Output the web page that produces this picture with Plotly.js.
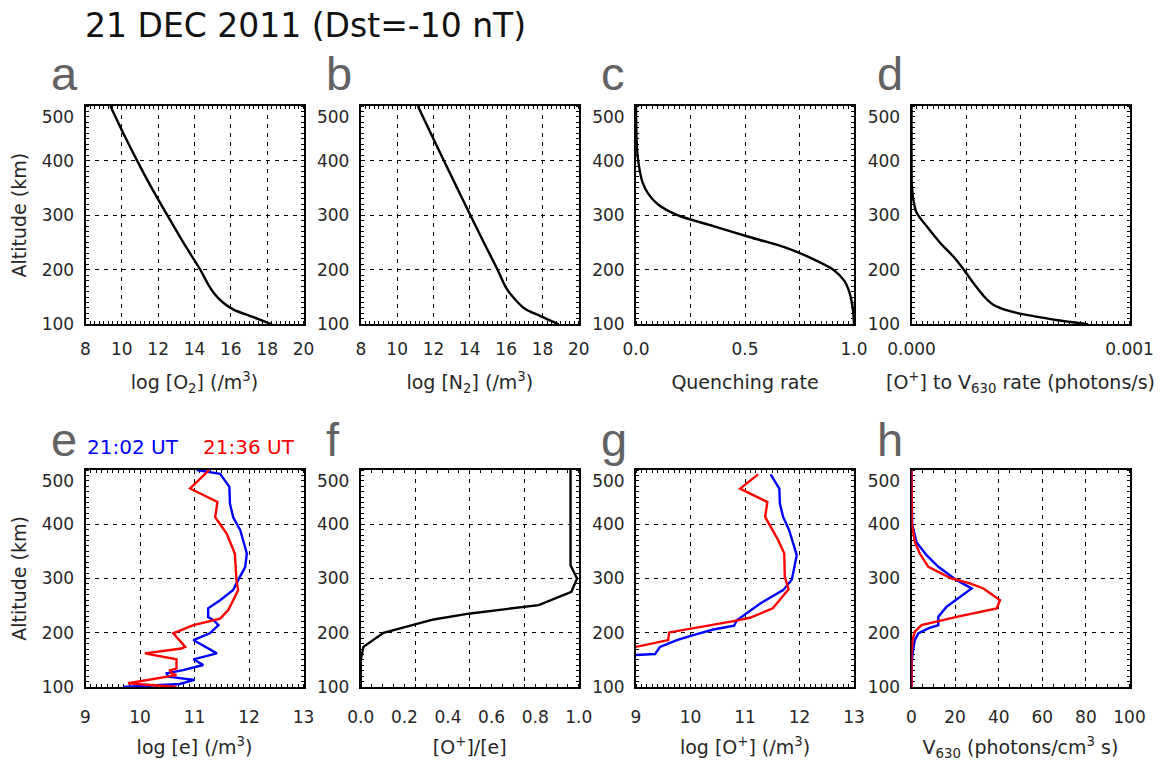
<!DOCTYPE html>
<html><head><meta charset="utf-8">
<script src="https://cdn.plot.ly/plotly-3.0.1.min.js"></script>
<style>html,body{margin:0;padding:0;background:#fff;}</style>
</head><body>
<div id="chart" style="width:1160px;height:763px;"></div>
<script>
// ---------------- data ----------------
const panelLetters = ['a','b','c','d','e','f','g','h'];
const figTitle = '21 DEC 2011 (Dst=-10 nT)';
const seriesNames = ['21:02 UT', '21:36 UT'];

const altTicks = [100, 200, 300, 400, 500];
// the top label sits just inside the frame, as in the reference
const altTickText = ['100', '200', '300', '400', '<br>500'];

// a: log [O2]
const altO2 = [500, 450, 400, 350, 300, 250, 200, 175, 158, 139, 127, 113, 100];
const logO2 = [9.37, 10.08, 10.84, 11.64, 12.5, 13.38, 14.32, 14.72, 15.05, 15.6, 16.15, 17.25, 18.26];
// b: log [N2]
const altN2 = [500, 450, 400, 350, 300, 250, 200, 164, 130, 115, 100];
const logN2 = [11.14, 11.85, 12.57, 13.3, 14.03, 14.77, 15.53, 16.05, 16.97, 17.89, 18.9];
// c: quenching rate
const altQ = [500, 450, 420, 400, 380, 360, 340, 320, 300, 280, 260, 240, 220, 200, 180, 160, 140, 120, 100];
const quench = [0.0, 0.002, 0.005, 0.01, 0.018, 0.03, 0.055, 0.1, 0.19, 0.355, 0.52, 0.69, 0.81, 0.905, 0.955, 0.978, 0.99, 0.997, 1.0];
// d: [O+] to V630 rate (photons/s)
const altR = [500, 400, 360, 348, 329, 305, 280, 250, 225, 200, 176, 151, 136, 124, 115, 107, 100];
const rateV = [0, 0, 1e-6, 3e-6, 8e-6, 2.3e-5, 6.9e-5, 1.3e-4, 1.9e-4, 2.4e-4, 2.83e-4, 3.33e-4, 3.75e-4, 4.52e-4, 5.59e-4, 6.8e-4, 8.1e-4];
// e: log [e]
const altE1 = [500, 493, 469, 438, 413, 389, 346, 321, 297, 279, 260, 245, 229, 223, 214, 199, 186.5, 162, 151, 140.5, 131, 125, 119, 113, 105.5, 100];
const logE1 = [11.04, 11.47, 11.64, 11.65, 11.71, 11.84, 11.96, 11.93, 11.8, 11.71, 11.47, 11.25, 11.25, 11.35, 11.44, 11.28, 10.98, 11.41, 10.98, 11.16, 10.79, 10.49, 10.52, 11.0, 10.73, 9.69];
const altE2 = [500, 466, 441, 413, 383, 346, 297, 278.5, 260, 242, 226, 214, 199, 174, 171, 162, 151, 134, 131, 125, 122, 107, 100];
const logE2 = [11.27, 10.92, 11.42, 11.38, 11.59, 11.74, 11.77, 11.8, 11.71, 11.62, 11.47, 10.98, 10.61, 10.83, 10.76, 10.09, 10.67, 10.67, 10.55, 10.58, 10.67, 9.78, 10.67];
// f: [O+]/[e]
const altF = [500, 324.5, 300, 275.5, 251, 235.6, 224.5, 200, 174, 150, 100];
const ratioF = [0.962, 0.962, 0.992, 0.966, 0.816, 0.502, 0.334, 0.104, 0.012, 0.0, 0.0];
// g: log [O+]
const altG1 = [492, 465.6, 438, 413.5, 389, 343, 298, 278.5, 254, 232.5, 223, 213, 206, 195.7, 186.5, 174, 160.7, 159];
const logG1 = [11.47, 11.63, 11.64, 11.70, 11.81, 11.95, 11.86, 11.70, 11.28, 10.97, 10.85, 10.80, 10.42, 10.05, 9.75, 9.44, 9.35, 9.0];
const altG2 = [492, 465.6, 441, 413.5, 370.6, 346, 303, 280, 245, 227.6, 221.5, 200.6, 186.5, 174];
const logG2 = [11.24, 10.91, 11.41, 11.37, 11.61, 11.72, 11.73, 11.80, 11.51, 11.09, 10.79, 9.61, 9.59, 9.0];
// h: V630 (photons/cm3 s)
const altH1 = [500, 400, 367, 343, 321.5, 297, 281.6, 266, 248, 229.4, 214, 208, 198.8, 186.5, 162, 137, 100];
const vH1 = [0, 0.3, 2.3, 6.9, 12.3, 20.7, 27.6, 22.2, 16.1, 12.3, 12.3, 7.7, 3.1, 1.5, 0.5, 0, 0];
const altH2 = [500, 400, 367.5, 346, 321.5, 300, 291, 281.6, 260, 244.8, 229.4, 214, 202, 186.5, 162, 100];
const vH2 = [0, 0.2, 1.5, 3.8, 7.7, 18.4, 26.8, 33, 40.6, 39.1, 20.7, 4.6, 1.5, 0.5, 0, 0];

// tick labels (x) per panel, and the dashed-grid positions where they differ
const xTickVals = [
  [8,10,12,14,16,18,20], [8,10,12,14,16,18,20],
  [0,0.5,1], [0,0.001],
  [9,10,11,12,13], [0,0.2,0.4,0.6,0.8,1.0], [9,10,11,12,13], [0,20,40,60,80,100]
];
const xTickText = [
  ['8','10','12','14','16','18','20'], ['8','10','12','14','16','18','20'],
  ['0.0','0.5','1.0'], ['0.000','0.001'],
  ['9','10','11','12','13'], ['0.0','0.2','0.4','0.6','0.8','1.0'], ['9','10','11','12','13'], ['0','20','40','60','80','100']
];
const extraGrid = {3: [0.25, 0.75], 4: [0.00025, 0.0005, 0.00075], 6: [0.25, 0.5, 0.75]};

// ---------------- styling / layout ----------------
const W = 1160, H = 763;
const lefts = [85.5, 360.8, 636.0, 911.5], boxW = 218;
const rowTop = [106, 470], rowBot = [324.3, 687];
const FONT = '"DejaVu Sans", sans-serif';
const TXT = '#262626';
const BLUE = '#0000ff', RED = '#ff0000';

const xTitles = [
  'log [O<sub>2</sub>] (/m<sup>3</sup>)',
  'log [N<sub>2</sub>] (/m<sup>3</sup>)',
  'Quenching rate',
  '[O<sup>+</sup>] to V<sub>630</sub> rate (photons/s)',
  'log [e] (/m<sup>3</sup>)',
  '[O<sup>+</sup>]/[e]',
  'log [O<sup>+</sup>] (/m<sup>3</sup>)',
  'V<sub>630</sub> (photons/cm<sup>3</sup> s)'
];
const xRanges = [[8,20],[8,20],[0,1],[0,0.001],[9,13],[0,1],[9,13],[0,100]];
const xMinor = [0.25, 0.25, 0.025, 0.000025, 0.1, 0.05, 0.1, 5];

const lineStyle = {linecolor:'#000', linewidth:2, mirror:'allticks', showline:true,
  ticks:'', zeroline:false, fixedrange:true, layer:'below traces',
  showgrid:true, gridcolor:'#000', gridwidth:1, griddash:'4px,5px'};

const layout = {
  width: W, height: H, margin: {l:0, r:0, t:0, b:0, autoexpand:false},
  paper_bgcolor:'#fff', plot_bgcolor:'#fff', showlegend:false,
  font: {family: FONT, color: TXT},
  title: {text: figTitle, font:{family: FONT, size: 33, color:'#111'},
          x: 85/W, xanchor:'left', xref:'container', y: 1 - 25/H, yref:'container', yanchor:'middle'},
  annotations: []
};

const data = [];
let extraAxis = 9;

for (let i = 0; i < 8; i++) {
  const r = Math.floor(i/4), c = i % 4, n = i + 1;
  const xd = [lefts[c]/W, (lefts[c]+boxW)/W];
  const yd = [1 - rowBot[r]/H, 1 - rowTop[r]/H];
  const xa = Object.assign({}, lineStyle, {
    domain: xd, anchor: 'y'+n, range: xRanges[i],
    tickmode:'array', tickvals: xTickVals[i], ticktext: xTickText[i],
    tickfont: {family: FONT, size: 17, color: TXT},
    ticklabelstandoff: r === 0 ? 8 : 14,
    minor: {ticks:'inside', ticklen:3, tickwidth:1, tickcolor:'#000', dtick: xMinor[i], tick0: xRanges[i][0], showgrid:false},
    automargin: 'top',
    title: {text: xTitles[i], font:{family: FONT, size: 19, color: TXT}, standoff: r === 0 ? 18 : 14}
  });
  if (extraGrid[n]) xa.showgrid = (n !== 6);
  const ya = Object.assign({}, lineStyle, {
    domain: yd, anchor: 'x'+n, range: [100, 500],
    tickmode:'array', tickvals: altTicks, ticktext: altTickText,
    tickfont: {family: FONT, size: 17, color: TXT},
    ticklabelstandoff: 6,
    minor: {ticks:'inside', ticklen:3, tickwidth:1, tickcolor:'#000', dtick: 10, tick0: 100, showgrid:false},
    automargin: 'right'
  });
  if (c === 0) ya.title = {text:'Altitude (km)', font:{family: FONT, size: 19, color: TXT}, standoff: 10};
  layout['xaxis'+n] = xa;
  layout['yaxis'+n] = ya;

  // overlay axis that carries the dashed grid where grid and labels differ
  if (extraGrid[n]) {
    const k = extraAxis++;
    layout['xaxis'+k] = Object.assign({}, lineStyle, {
      overlaying:'x'+n, anchor:'y'+n, range: xRanges[i], showline:false, mirror:false,
      tickmode:'array', tickvals: extraGrid[n], showticklabels:false, automargin:false
    });
    data.push({type:'scatter', mode:'lines', x:[], y:[], xaxis:'x'+k, yaxis:'y'+n, hoverinfo:'skip', showlegend:false});
  }

  layout.annotations.push({
    text: panelLetters[i], xref:'paper', yref:'paper', showarrow:false,
    x: (lefts[c]-37)/W, xanchor:'left',
    y: 1 - (r === 0 ? 102 : 468)/H, yanchor:'bottom',
    font: {family:'"Liberation Sans", Arial, sans-serif', size: 47, color:'#626262'}
  });
}

// series labels in panel e
layout.annotations.push({text: seriesNames[0], xref:'paper', yref:'paper', showarrow:false,
  x: 85/W, xanchor:'left', y: 1 - 461/H, yanchor:'bottom',
  font:{family: FONT, size: 20, color: BLUE}});
layout.annotations.push({text: seriesNames[1], xref:'paper', yref:'paper', showarrow:false,
  x: 201/W, xanchor:'left', y: 1 - 461/H, yanchor:'bottom',
  font:{family: FONT, size: 20, color: RED}});

function tr(x, y, n, color, smooth, name) {
  return {type:'scatter', mode:'lines', x: x, y: y, xaxis:'x'+n, yaxis:'y'+n,
    name: name || '', hoverinfo:'skip',
    line: {color: color, width: 2.4, shape: smooth ? 'spline' : 'linear', smoothing: smooth ? 0.8 : 0}};
}

data.push(
  tr(logO2, altO2, 1, '#000', true),
  tr(logN2, altN2, 2, '#000', true),
  tr(quench, altQ, 3, '#000', true),
  tr(rateV, altR, 4, '#000', true),
  tr(logE1, altE1, 5, BLUE, false, seriesNames[0]),
  tr(logE2, altE2, 5, RED, false, seriesNames[1]),
  tr(ratioF, altF, 6, '#000', false),
  tr(logG1, altG1, 7, BLUE, false, seriesNames[0]),
  tr(logG2, altG2, 7, RED, false, seriesNames[1]),
  tr(vH1, altH1, 8, BLUE, false, seriesNames[0]),
  tr(vH2, altH2, 8, RED, false, seriesNames[1])
);

Plotly.newPlot('chart', data, layout, {staticPlot: true, displayModeBar: false});
</script>
</body></html>
